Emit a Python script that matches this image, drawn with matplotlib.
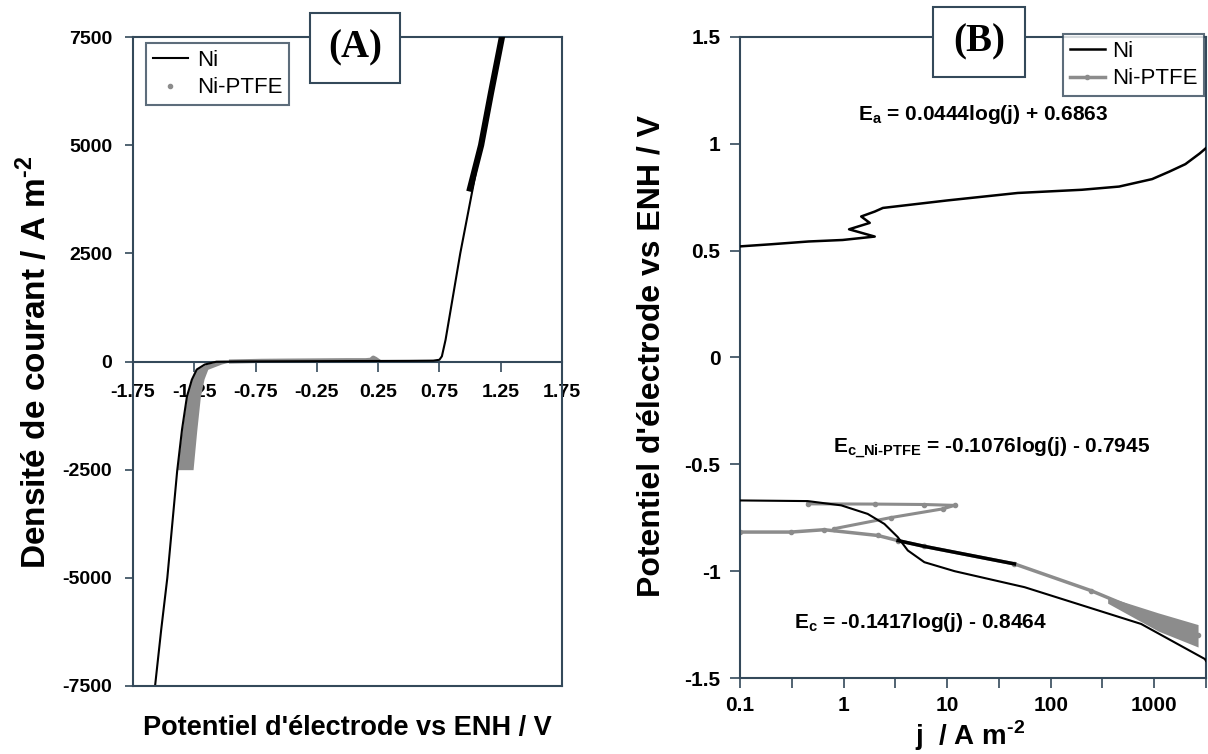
import numpy as np
import matplotlib.pyplot as plt
from matplotlib.patches import Rectangle
from matplotlib.ticker import FixedLocator, NullFormatter

plt.rcParams['font.family'] = ['Liberation Sans', 'DejaVu Sans']
plt.rcParams['mathtext.fontset'] = 'custom'
plt.rcParams['mathtext.rm'] = 'Liberation Sans'
plt.rcParams['mathtext.bf'] = 'Liberation Sans:bold'
plt.rcParams['axes.unicode_minus'] = False

SP = '#34495a'   # spine colour
GR = '#8c8c8c'   # Ni-PTFE grey

# ---- panel A : j vs E (linear) ----
ni_a_v = [-1.57, -1.52, -1.47, -1.39, -1.35, -1.31, -1.27, -1.23, -1.165, -1.07, -0.9,
          0.0, 0.5, 0.70, 0.75, 0.77, 0.80, 0.92, 1.09, 1.26]
ni_a_j = [-7500, -6200, -5000, -2540, -1570, -810, -420, -185, -70, -5, 0,
          10, 15, 20, 40, 120, 500, 2500, 5000, 7500]
# noisy upper part of the Ni anodic branch
ni_a_noisy_v = [1.00, 1.09, 1.17, 1.26]
ni_a_noisy_j = [4000, 5000, 6200, 7500]

ptfe_a_j = [-2500, -1600, -800, -400, -180, -60, 0]
ptfe_a_lo = [-1.39, -1.35, -1.31, -1.27, -1.23, -1.15, -1.05]
ptfe_a_hi = [-1.26, -1.23, -1.20, -1.17, -1.14, -1.03, -0.95]
ptfe_a_flat_v = [-0.95, -0.7, -0.5, -0.25, 0.0, 0.15, 0.19, 0.21, 0.23, 0.25]
ptfe_a_flat_j = [0, 15, 20, 25, 30, 30, 40, 90, 60, 20]

# ---- panel B : E vs log j ----
ni_b_an_j = [0.1, 0.2, 0.46, 0.98, 2.0, 1.13, 1.79, 1.48, 2.0, 2.4, 10, 48, 200, 458, 955, 1400, 2000, 2750, 3162]
ni_b_an_e = [0.52, 0.53, 0.543, 0.55, 0.566, 0.60, 0.63, 0.66, 0.683, 0.70, 0.735, 0.77, 0.785, 0.80, 0.835, 0.87, 0.905, 0.955, 0.98]

ni_b_ca_j = [0.1, 0.45, 0.95, 1.71, 2.48, 3.33, 4.17, 6.03, 11.8, 56, 747, 3080, 3162]
ni_b_ca_e = [-0.669, -0.672, -0.692, -0.732, -0.779, -0.840, -0.903, -0.958, -1.0, -1.075, -1.247, -1.411, -1.42]

ptfe_b_j = [0.1, 0.31, 0.65, 2.14, 3.36, 6.03, 44.7, 245, 2650]
ptfe_b_e = [-0.817, -0.817, -0.806, -0.833, -0.857, -0.884, -0.966, -1.091, -1.30]
ptfe_b_loop_j = [0.815, 2.88, 9.2, 11.8, 6.0, 2.0, 0.45]
ptfe_b_loop_e = [-0.801, -0.749, -0.708, -0.692, -0.688, -0.686, -0.685]
ptfe_b_band_j = [355, 1090, 2650]
ptfe_b_band_top = [-1.12, -1.195, -1.25]
ptfe_b_band_bot = [-1.15, -1.28, -1.355]

fig = plt.figure(figsize=(12.08, 7.54), dpi=100)

# ================= panel A =================
axA = fig.add_axes([133/1208, 1-686/754, (562-133)/1208, (686-37)/754])
axA.fill_betweenx(ptfe_a_j, ptfe_a_lo, ptfe_a_hi, color=GR, lw=0, zorder=2)
axA.plot(ptfe_a_flat_v, ptfe_a_flat_j, color=GR, lw=3, zorder=2)
axA.plot(ni_a_v, ni_a_j, color='black', lw=1.5, zorder=3, label='Ni')
axA.plot(ni_a_noisy_v, ni_a_noisy_j, color='black', lw=4.5, zorder=3)
axA.plot([], [], ls='none', marker='o', ms=3, color=GR, label='Ni-PTFE')

axA.set_xlim(-1.75, 1.75)
axA.set_ylim(-7500, 7500)
axA.set_xticks(np.arange(-1.75, 1.76, 0.5))
axA.set_xticklabels(['%.2f' % t for t in np.arange(-1.75, 1.76, 0.5)])
axA.set_yticks(np.arange(-7500, 7501, 2500))
axA.spines['bottom'].set_position(('data', 0))
axA.axhline(-7500, color=SP, lw=1.5, clip_on=False, zorder=5)
for s in axA.spines.values():
    s.set_color(SP)
    s.set_linewidth(1.5)
axA.tick_params(axis='x', direction='out', length=7, width=1.2, color=SP, pad=9,
                labelsize=14)
axA.tick_params(axis='y', direction='out', length=6, width=1.2, color=SP, pad=9,
                labelsize=14)
for lab in axA.get_xticklabels() + axA.get_yticklabels():
    lab.set_fontweight('bold')
fig.text(35/1208, 1-362/754, 'Densité de courant / A m$^{\\mathbf{\u20102}}$', fontsize=24,
         fontweight='bold', rotation=90, ha='center', va='center')
fig.text(347/1208, 1-728/754, "Potentiel d'électrode vs ENH / V", fontsize=19.5,
         fontweight='bold', ha='center', va='center')
legA = axA.legend(loc='upper left', bbox_to_anchor=(146/1208, 1-43/754),
                  bbox_transform=fig.transFigure, fontsize=16, frameon=True,
                  fancybox=False, handlelength=1.6, handletextpad=0.4,
                  borderpad=0.3, labelspacing=0.3, borderaxespad=0)
legA.get_frame().set_edgecolor(SP)
legA.get_frame().set_linewidth(1.5)

# ================= panel B =================
axB = fig.add_axes([740/1208, 1-678/754, (1206-740)/1208, (678-37)/754])
axB.set_xscale('log')
axB.fill_between(ptfe_b_band_j, ptfe_b_band_bot, ptfe_b_band_top, color=GR, lw=0, zorder=2)
axB.plot(ptfe_b_j, ptfe_b_e, color=GR, lw=2.5, marker='o', ms=3, zorder=2, label='Ni-PTFE')
axB.plot(ptfe_b_loop_j, ptfe_b_loop_e, color=GR, lw=2.2, marker='o', ms=3, zorder=2)
axB.plot(ptfe_b_j[4:7], ptfe_b_e[4:7], color='black', lw=2.5, zorder=3)
axB.plot(ni_b_an_j, ni_b_an_e, color='black', lw=1.8, zorder=3, label='Ni')
axB.plot(ni_b_ca_j, ni_b_ca_e, color='black', lw=1.5, zorder=3)

axB.set_xlim(0.1, 10**3.5)
axB.set_ylim(-1.5, 1.5)
axB.xaxis.set_major_locator(FixedLocator([0.1, 1, 10, 100, 1000]))
axB.set_xticklabels(['0.1', '1', '10', '100', '1000'])
axB.xaxis.set_minor_locator(FixedLocator([10**k for k in (-0.5, 0.5, 1.5, 2.5, 3.5)]))
axB.xaxis.set_minor_formatter(NullFormatter())
axB.set_yticks([-1.5, -1, -0.5, 0, 0.5, 1, 1.5])
axB.set_yticklabels(['-1.5', '-1', '-0.5', '0', '0.5', '1', '1.5'])
for s in axB.spines.values():
    s.set_color(SP)
    s.set_linewidth(1.5)
axB.tick_params(axis='both', which='both', direction='out', length=7, width=1.2,
                color=SP, labelsize=15)
axB.tick_params(axis='x', pad=6)
axB.tick_params(axis='y', pad=7)
for lab in axB.get_xticklabels() + axB.get_yticklabels():
    lab.set_fontweight('bold')
fig.text(652/1208, 1-356/754, "Potentiel d'électrode vs ENH / V", fontsize=23,
         fontweight='bold', rotation=90, ha='center', va='center')
fig.text(970/1208, 1-736/754, 'j  / A m$^{\\mathbf{\u20102}}$', fontsize=20,
         fontweight='bold', ha='center', va='center')

axB.text(983/1208, 1-114/754, 'E$_{\\mathbf{a}}$ = 0.0444log(j) + 0.6863',
         transform=fig.transFigure, fontsize=15, fontweight='bold', ha='center', va='center')
axB.text(992/1208, 1-448/754, 'E$_{\\mathbf{c\\_Ni\u2010PTFE}}$ = -0.1076log(j) - 0.7945',
         transform=fig.transFigure, fontsize=15, fontweight='bold', ha='center', va='center')
axB.text(920/1208, 1-622/754, 'E$_{\\mathbf{c}}$ = -0.1417log(j) - 0.8464',
         transform=fig.transFigure, fontsize=15, fontweight='bold', ha='center', va='center')

h, l = axB.get_legend_handles_labels()
legB = axB.legend(h[::-1], l[::-1], loc='upper left', bbox_to_anchor=(1063/1208, 1-34/754),
                  bbox_transform=fig.transFigure, fontsize=16, frameon=True,
                  fancybox=False, handlelength=1.6, handletextpad=0.3,
                  borderpad=0.3, labelspacing=0.3, borderaxespad=0)
legB.get_frame().set_edgecolor(SP)
legB.get_frame().set_linewidth(1.5)

# panel tags
for (x0, y0, x1, y1, tag) in [(310, 13, 400, 83, '(A)'), (933, 7, 1025, 77, '(B)')]:
    fig.patches.append(Rectangle((x0/1208, 1-y1/754), (x1-x0)/1208, (y1-y0)/754,
                                 transform=fig.transFigure, facecolor='white',
                                 edgecolor=SP, lw=1.5, zorder=10))
    fig.text((x0+x1)/2/1208, 1-(y0+y1)/2/754, tag, family='Liberation Serif',
             fontsize=28, fontweight='bold', ha='center', va='center', zorder=11)

fig.savefig('out.png', dpi=100)
